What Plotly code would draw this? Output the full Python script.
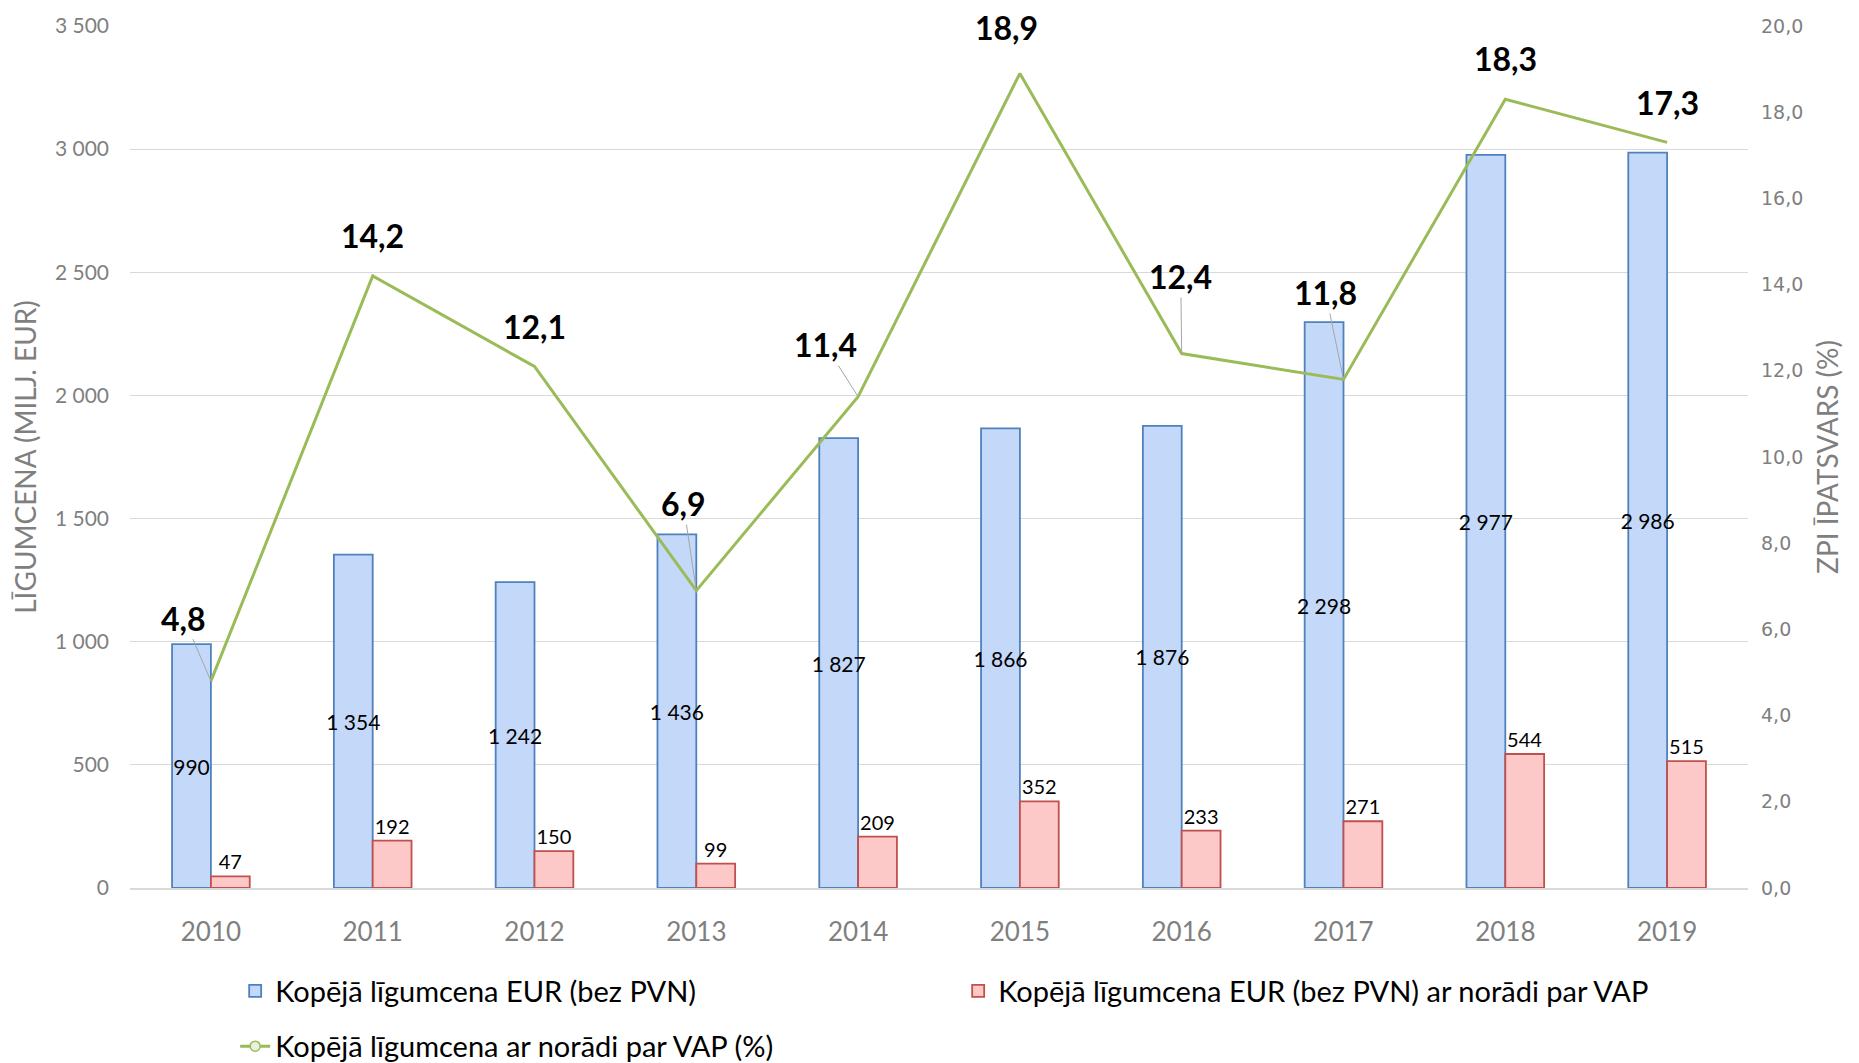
import plotly.graph_objects as go

years = ["2010", "2011", "2012", "2013", "2014", "2015", "2016", "2017", "2018", "2019"]
total_eur = [990, 1354, 1242, 1436, 1827, 1866, 1876, 2298, 2977, 2986]
vap_eur = [47, 192, 150, 99, 209, 352, 233, 271, 544, 515]
vap_pct = [4.8, 14.2, 12.1, 6.9, 11.4, 18.9, 12.4, 11.8, 18.3, 17.3]

# label offsets (px) for the percentage labels; leader line shown where True
lbl_dx = [-27, 0, 0, -13, -33, -13, -1, -18, 0, 0]
lbl_dy = [-63, -40, -40, -87, -52, -46, -77, -87, -41, -40]
leader = [True, False, False, True, True, False, True, True, False, False]

FONT = "Lato, Carlito, 'Liberation Sans', sans-serif"
GRAY = "#7f7f7f"

fig = go.Figure()
fig.add_trace(go.Bar(
    x=years, y=total_eur, name="Kopējā līgumcena EUR (bez PVN)",
    marker=dict(color="#c4d8fa", line=dict(color="#4f81bd", width=1.8)),
    texttemplate="%{y:,d}", textposition="inside", insidetextanchor="middle",
    constraintext="none", textangle=0,
    textfont=dict(color="black", size=21, family=FONT),
    offsetgroup="a", hoverinfo="skip",
))
fig.add_trace(go.Bar(
    x=years, y=vap_eur, name="Kopējā līgumcena EUR (bez PVN) ar norādi par VAP",
    marker=dict(color="#fdc8c8", line=dict(color="#c0504d", width=1.8)),
    texttemplate="%{y:,d}", textposition="outside", constraintext="none",
    textangle=0, cliponaxis=False,
    textfont=dict(color="black", size=20, family=FONT),
    offsetgroup="b", hoverinfo="skip",
))
fig.add_trace(go.Scatter(
    x=years, y=vap_pct, yaxis="y2", mode="lines",
    line=dict(color="#9bbb59", width=3), showlegend=False, hoverinfo="skip",
))
# legend entry for the line series (with marker, as in the reference legend)
fig.add_trace(go.Scatter(
    x=[None], y=[None], yaxis="y2", mode="lines+markers",
    name="Kopējā līgumcena ar norādi par VAP (%)", legend="legend2",
    line=dict(color="#9bbb59", width=3),
    marker=dict(symbol="circle", size=10, color="#ebf1de",
                line=dict(color="#9bbb59", width=1.5)),
))

for i, v in enumerate(vap_pct):
    fig.add_annotation(
        x=i, y=v, xref="x", yref="y2",
        text="<b>" + f"{v:.1f}".replace(".", ",") + "</b>",
        showarrow=True, arrowhead=0, arrowwidth=1,
        arrowcolor="#a6a6a6" if leader[i] else "rgba(0,0,0,0)",
        ax=lbl_dx[i], ay=lbl_dy[i],
        font=dict(size=32, color="black", family=FONT),
    )

fig.update_layout(
    width=1851, height=1055,
    margin=dict(l=122, r=111, t=18, b=175, autoexpand=False),
    plot_bgcolor="white", paper_bgcolor="white",
    separators=", ",
    barmode="group", bargap=0.52, bargroupgap=0,
    font=dict(family=FONT, color=GRAY),
    xaxis=dict(
        type="category", range=[-0.5, len(years) - 0.5], automargin=False,
        showgrid=False, showline=True, linecolor="#d9d9d9", linewidth=1.5,
        tickfont=dict(size=26, color=GRAY, family=FONT),
        ticklabelstandoff=20,
    ),
    yaxis=dict(
        range=[0, 3500], dtick=500, showgrid=True, gridcolor="#d9d9d9",
        gridwidth=1.2, zeroline=False, separatethousands=True, tickformat=",d",
        automargin=False,
        tickfont=dict(size=21, color=GRAY, family=FONT),
        ticklabelstandoff=20,
        title=dict(text="LĪGUMCENA (MILJ. EUR)", standoff=30,
                   font=dict(size=28, color=GRAY, family=FONT)),
    ),
    yaxis2=dict(
        range=[0, 20], dtick=2, overlaying="y", side="right", automargin=False,
        showgrid=False, zeroline=False, tickformat=".1f",
        tickfont=dict(size=19, color=GRAY, family="'DejaVu Sans', Verdana, sans-serif"),
        ticklabelstandoff=12,
        title=dict(text="ZPI ĪPATSVARS (%)", standoff=16,
                   font=dict(size=28, color=GRAY, family=FONT)),
    ),
    legend=dict(
        orientation="h", x=0.065, xanchor="left",
        yref="container", y=0.0924, yanchor="top",
        font=dict(size=29, color="black", family=FONT),
        entrywidth=678, entrywidthmode="pixels",
        traceorder="normal",
    ),
    legend2=dict(
        orientation="h", x=0.065, xanchor="left",
        yref="container", y=0.040, yanchor="top",
        font=dict(size=29, color="black", family=FONT),
    ),
    hovermode=False,
)

fig.write_html("out.html")
